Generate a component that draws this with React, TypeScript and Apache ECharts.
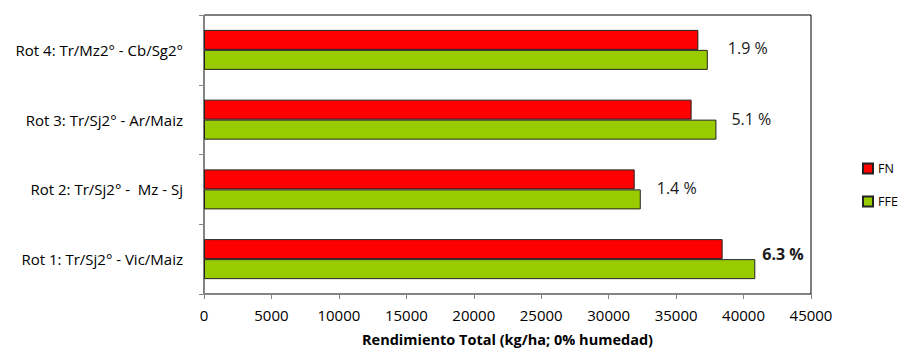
import React, { useEffect, useRef } from "react";
import * as echarts from "echarts";

const categories = [
  "Rot 1: Tr/Sj2° - Vic/Maiz",
  "Rot 2: Tr/Sj2° -  Mz - Sj",
  "Rot 3: Tr/Sj2° - Ar/Maiz",
  "Rot 4: Tr/Mz2° - Cb/Sg2°",
];
const fnValues = [38450, 31930, 36150, 36650];
const ffeValues = [40870, 32380, 37990, 37350];
const xTicks = [0, 5000, 10000, 15000, 20000, 25000, 30000, 35000, 40000, 45000];

const FONT = "'Open Sans', 'Noto Sans', sans-serif";

export default function App() {
  const ref = useRef<HTMLDivElement>(null);

  useEffect(() => {
    if (!ref.current) return;
    const chart = echarts.init(ref.current, undefined, { renderer: "svg" });

    // label placement next to each FFE bar (dx, dy in px)
    const labelShift = [
      [7, -15],
      [16, -11],
      [15, -11],
      [20, -12],
    ];

    const pct = (i: number) => ((ffeValues[i] / fnValues[i] - 1) * 100).toFixed(1) + " %";

    chart.setOption({
      animation: false,
      backgroundColor: "#ffffff",
      textStyle: { fontFamily: FONT },
      grid: {
        left: 204,
        right: 89,
        top: 15,
        bottom: 55,
        show: true,
        borderColor: "#000",
        borderWidth: 1,
        containLabel: false,
        outerBoundsMode: "none",
      },
      legend: {
        orient: "vertical",
        left: 857,
        top: 157,
        itemWidth: 10,
        itemHeight: 10,
        itemGap: 20,
        icon: "rect",
        data: ["FN", "FFE"],
        textStyle: { fontFamily: FONT, fontSize: 12.5, color: "#000" },
      },
      xAxis: {
        type: "value",
        min: xTicks[0],
        max: xTicks[xTicks.length - 1],
        interval: 5000,
        name: "Rendimiento Total (kg/ha; 0% humedad)",
        nameLocation: "middle",
        nameGap: 38,
        nameTextStyle: { fontFamily: FONT, fontSize: 14.5, fontWeight: "bold", color: "#000" },
        axisLine: { show: true, lineStyle: { color: "#868686", width: 1 } },
        axisTick: { show: true, length: 5, lineStyle: { color: "#868686" } },
        axisLabel: {
          fontFamily: FONT,
          fontSize: 15,
          color: "#000",
          margin: 13,
          formatter: (v: number) => String(v),
        },
        splitLine: { show: false },
      },
      yAxis: {
        type: "category",
        data: categories,
        axisLine: { show: true, lineStyle: { color: "#868686", width: 1 } },
        axisTick: { show: true, length: 5, lineStyle: { color: "#868686" } },
        axisLabel: { fontFamily: FONT, fontSize: 15, color: "#000", margin: 21 },
      },
      series: [
        {
          name: "FN",
          type: "bar",
          data: fnValues,
          barWidth: 20,
          barGap: "0%",
          itemStyle: { color: "#FF0000", borderColor: "#222", borderWidth: 1 },
        },
        {
          name: "FFE",
          type: "bar",
          data: ffeValues.map((v, i) => ({
            value: v,
            label: {
              show: true,
              position: "right",
              distance: 0,
              offset: labelShift[i],
              formatter: () => pct(i),
              fontFamily: FONT,
              fontSize: 16,
              color: "#1a1a1a",
              fontWeight: i === 0 ? "bold" : "normal",
            },
          })),
          barWidth: 20,
          barGap: "0%",
          itemStyle: { color: "#99CC00", borderColor: "#222", borderWidth: 1 },
        },
      ],
    });

    return () => chart.dispose();
  }, []);

  return (
    <div
      ref={ref}
      style={{ position: "fixed", left: 0, top: 0, width: 900, height: 349 }}
    />
  );
}
